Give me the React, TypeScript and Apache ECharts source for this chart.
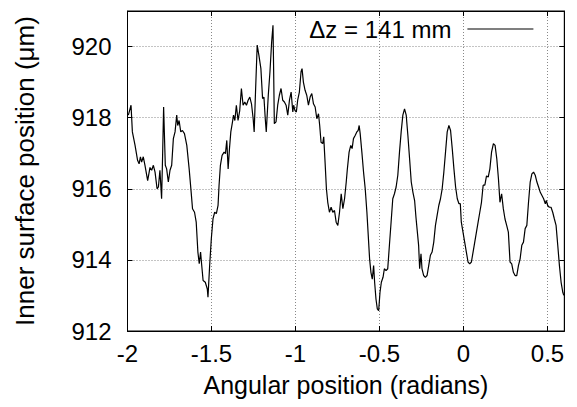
import React, { useEffect, useRef } from "react";
import * as echarts from "echarts";

const seriesName = "Δz = 141 mm";
const xTitle = "Angular position (radians)";
const yTitle = "Inner surface position (μm)";

const angle: number[] = [
  -1.995, -1.979, -1.971, -1.955, -1.94, -1.931, -1.923, -1.916, -1.906, -1.896,
  -1.88, -1.866, -1.856, -1.846, -1.836, -1.824, -1.816, -1.807, -1.797, -1.791,
  -1.785, -1.775, -1.767, -1.757, -1.747, -1.737, -1.727, -1.717, -1.707, -1.701,
  -1.693, -1.683, -1.673, -1.661, -1.647, -1.633, -1.621, -1.613, -1.601, -1.591,
  -1.581, -1.573, -1.565, -1.56, -1.55, -1.537, -1.525, -1.521, -1.511, -1.501,
  -1.491, -1.481, -1.471, -1.461, -1.455, -1.447, -1.437, -1.425, -1.417, -1.409,
  -1.401, -1.393, -1.385, -1.375, -1.369, -1.361, -1.352, -1.342, -1.332, -1.322,
  -1.312, -1.302, -1.292, -1.282, -1.272, -1.262, -1.252, -1.246, -1.238, -1.228,
  -1.218, -1.206, -1.196, -1.188, -1.18, -1.174, -1.162, -1.152, -1.142, -1.134,
  -1.13, -1.126, -1.116, -1.106, -1.096, -1.086, -1.076, -1.066, -1.056, -1.046,
  -1.036, -1.026, -1.016, -1.011, -1.003, -0.995, -0.987, -0.977, -0.967, -0.961,
  -0.953, -0.943, -0.933, -0.923, -0.913, -0.903, -0.893, -0.883, -0.873, -0.863,
  -0.856, -0.848, -0.838, -0.832, -0.824, -0.816, -0.808, -0.798, -0.788, -0.778,
  -0.768, -0.758, -0.748, -0.738, -0.728, -0.718, -0.708, -0.698, -0.692, -0.681,
  -0.671, -0.663, -0.655, -0.645, -0.635, -0.627, -0.621, -0.615, -0.605, -0.595,
  -0.585, -0.575, -0.567, -0.559, -0.551, -0.543, -0.535, -0.529, -0.521, -0.513,
  -0.505, -0.497, -0.489, -0.479, -0.471, -0.461, -0.451, -0.441, -0.431, -0.421,
  -0.411, -0.401, -0.391, -0.381, -0.371, -0.361, -0.351, -0.341, -0.331, -0.321,
  -0.311, -0.301, -0.291, -0.283, -0.267, -0.261, -0.253, -0.247, -0.237, -0.227,
  -0.217, -0.207, -0.197, -0.187, -0.177, -0.167, -0.157, -0.147, -0.137, -0.127,
  -0.117, -0.107, -0.097, -0.087, -0.077, -0.067, -0.057, -0.047, -0.037, -0.027,
  -0.019, -0.013, -0.003, 0.007, 0.017, 0.027, 0.037, 0.047, 0.057, 0.067,
  0.077, 0.087, 0.097, 0.107, 0.117, 0.127, 0.137, 0.147, 0.157, 0.167,
  0.178, 0.188, 0.198, 0.208, 0.217, 0.227, 0.237, 0.247, 0.257, 0.267,
  0.277, 0.287, 0.297, 0.307, 0.317, 0.327, 0.337, 0.347, 0.357, 0.367,
  0.377, 0.387, 0.397, 0.407, 0.417, 0.427, 0.437, 0.447, 0.457, 0.467,
  0.477, 0.487, 0.493, 0.501, 0.511, 0.521, 0.531, 0.541, 0.551, 0.561,
  0.571, 0.581, 0.591, 0.597,
];

const position: number[] = [
  918.07, 918.35, 917.6, 917.22, 916.8, 916.7, 916.9, 916.75, 916.9, 916.66,
  916.23, 916.6, 916.52, 916.66, 916.47, 916.0, 916.05, 916.52, 915.72, 916.94,
  918.3, 916.66, 916.56, 916.19, 916.52, 916.66, 917.41, 917.6, 918.07, 917.78,
  917.92, 917.6, 917.64, 917.55, 917.22, 916.56, 915.9, 915.44, 915.34, 915.06,
  914.22, 913.89, 914.22, 913.94, 913.42, 913.37, 913.18, 912.95, 913.84, 914.6,
  915.16, 915.34, 915.3, 915.53, 916.1, 916.66, 916.94, 917.03, 916.99, 917.36,
  916.56, 917.13, 917.6, 917.88, 918.07, 917.92, 918.35, 917.92, 918.2, 918.82,
  918.35, 918.44, 918.35, 918.49, 918.58, 918.39, 917.97, 917.6, 918.72, 920.04,
  919.76, 919.38, 918.54, 918.58, 917.97, 917.6, 918.63, 919.29, 920.13, 920.6,
  919.29, 917.83, 917.88, 918.35, 918.63, 918.82, 918.49, 918.44, 918.35, 918.07,
  918.49, 918.72, 918.16, 918.35, 918.2, 918.16, 918.49, 918.72, 919.29, 919.38,
  919.0, 918.77, 918.63, 918.35, 918.58, 918.68, 918.39, 918.3, 917.97, 918.11,
  917.78, 917.31, 917.27, 917.46, 916.75, 916.0, 915.62, 915.34, 915.48, 915.34,
  915.39, 915.06, 914.97, 915.34, 915.86, 915.44, 915.72, 916.19, 916.52, 917.03,
  917.22, 917.13, 917.41, 917.5, 917.6, 917.64, 917.78, 917.55, 917.03, 916.47,
  916.0, 915.34, 914.69, 914.03, 913.65, 913.46, 913.84, 913.37, 912.9, 912.62,
  912.57, 913.09, 913.37, 913.51, 913.75, 913.7, 913.75, 914.41, 915.06, 915.72,
  915.86, 916.05, 916.38, 917.03, 917.6, 918.07, 918.25, 918.07, 917.5, 916.85,
  916.19, 915.9, 915.67, 915.2, 914.4, 913.75, 914.17, 913.75, 913.56, 913.51,
  913.56, 913.84, 914.13, 914.22, 914.5, 914.97, 915.25, 915.53, 915.72, 916.0,
  916.47, 917.03, 917.6, 917.78, 917.64, 917.13, 916.56, 916.05, 915.72, 915.58,
  915.58, 915.06, 914.78, 914.5, 914.22, 913.94, 913.89, 913.94, 914.22, 914.5,
  914.78, 915.06, 915.34, 915.62, 916.1, 916.1, 916.36, 916.33, 916.56, 917.03,
  917.27, 917.22, 916.85, 916.28, 915.62, 915.86, 915.44, 915.15, 914.97, 914.78,
  913.94, 913.89, 913.65, 913.56, 913.56, 913.84, 914.03, 914.41, 914.5, 914.88,
  914.97, 915.62, 916.19, 916.42, 916.47, 916.38, 916.19, 916.05, 915.9, 915.81,
  915.72, 915.58, 915.67, 915.53, 915.48, 915.48, 915.34, 915.15, 914.97, 914.41,
  913.84, 913.37, 913.09, 913.0,
];

const FONT = "'Liberation Sans', Arial, Helvetica, sans-serif";

export default function App() {
  const ref = useRef<HTMLDivElement>(null);
  useEffect(() => {
    if (!ref.current) return;
    const chart = echarts.init(ref.current, null, { renderer: "svg" });
    const data = angle.map((a, i) => [a, position[i]]);
    const split = { show: true, lineStyle: { color: "#888", width: 1, type: [1, 2] as any } };
    const tick = { show: true, inside: true, length: 5, lineStyle: { color: "#000", width: 1 } };
    const line = { show: true, onZero: false, lineStyle: { color: "#000", width: 1 } };
    chart.setOption({
      animation: false,
      backgroundColor: "#fff",
      textStyle: { fontFamily: FONT, color: "#000" },
      grid: {
        left: 127.5,
        right: 12.7,
        top: 11,
        bottom: 76,
        show: true,
        borderColor: "#000",
        borderWidth: 1,
        containLabel: false,
        outerBoundsMode: "none",
      },
      legend: {
        show: true,
        data: [seriesName],
        right: 43,
        top: 17,
        padding: 0,
        align: "right",
        itemWidth: 66,
        itemHeight: 24,
        itemStyle: { opacity: 0 },
        lineStyle: { color: "#000", width: 1.2 },
        textStyle: { fontFamily: FONT, fontSize: 24, color: "#000", padding: [0, 11, 0, 0] },
      },
      xAxis: [
        {
          type: "value",
          min: -2,
          max: 0.6,
          interval: 0.5,
          position: "bottom",
          axisLine: line,
          axisTick: tick,
          splitLine: split,
          axisLabel: { fontSize: 24, color: "#000", fontFamily: FONT, margin: 10, showMaxLabel: false },
          name: xTitle,
          nameLocation: "middle",
          nameGap: 41,
          nameTextStyle: { fontSize: 25, color: "#000", fontFamily: FONT },
        },
        {
          type: "value",
          min: -2,
          max: 0.6,
          interval: 0.5,
          position: "top",
          axisLine: line,
          axisTick: tick,
          splitLine: { show: false },
          axisLabel: { show: false },
        },
      ],
      yAxis: [
        {
          type: "value",
          min: 912,
          max: 921,
          interval: 2,
          position: "left",
          axisLine: line,
          axisTick: tick,
          splitLine: split,
          axisLabel: { fontSize: 24, color: "#000", fontFamily: FONT, margin: 16, showMaxLabel: false },
          name: yTitle,
          nameLocation: "middle",
          nameRotate: 90,
          nameGap: 90,
          nameTextStyle: { fontSize: 26, color: "#000", fontFamily: FONT },
        },
        {
          type: "value",
          min: 912,
          max: 921,
          interval: 2,
          position: "right",
          axisLine: line,
          axisTick: tick,
          splitLine: { show: false },
          axisLabel: { show: false },
        },
      ],
      series: [
        {
          name: seriesName,
          type: "line",
          data,
          showSymbol: false,
          symbol: "none",
          color: "#000",
          itemStyle: { color: "#000" },
          lineStyle: { color: "#000", width: 1.2 },
          xAxisIndex: 0,
          yAxisIndex: 0,
        },
      ],
    });
    return () => chart.dispose();
  }, []);
  return (
    <div
      ref={ref}
      style={{ position: "fixed", left: 0, top: 0, width: 577, height: 407, background: "#fff" }}
    />
  );
}
